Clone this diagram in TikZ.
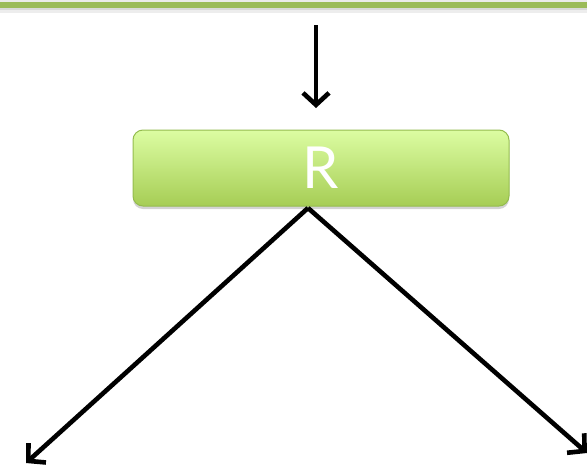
\documentclass[tikz,border=0pt]{standalone}
\usepackage{fontspec}
\setmainfont{Lato}
\usetikzlibrary{arrows.meta,shadows,fadings}
\definecolor{boxtop}{HTML}{DCFDA2}
\definecolor{boxbot}{HTML}{A6CD55}
\definecolor{boxedge}{HTML}{94BC4E}
\definecolor{barcol}{HTML}{9BBB59}
\tikzset{
  conn/.style={line width=4.6pt,-{Straight Barb[length=12pt,width=26pt,line width=4.6pt]}},
  rbox/.style={rounded corners=10pt,draw=boxedge,line width=1pt,top color=boxtop,bottom color=boxbot,
    minimum width=376pt,minimum height=76pt,text=white,font=\fontsize{58}{60}\selectfont,
    drop shadow={shadow xshift=0pt,shadow yshift=-3pt,opacity=0.35}},
}
\begin{document}
\begin{tikzpicture}[x=1pt,y=-1pt]
\useasboundingbox (0,0) rectangle (587,469);
% top bar (box cut off)
\fill[black!8] (0,0) rectangle (587,2);
\fill[black!15] (0,8) rectangle (587,10);
\fill[black!7] (0,10) rectangle (587,13);
\fill[barcol] (0,2) rectangle (587,8);
\coordinate (topin) at (316,25);
\node[rbox] (R) at (321,168) {R};
\coordinate (rtop) at (316,108);
\coordinate (split) at (308,208);
\coordinate (lend) at (26,463);
\coordinate (rend) at (587,453);
\draw[conn] (topin) -- (rtop);
\draw[conn] (split) -- (lend);
\draw[conn] (split) -- (rend);
\end{tikzpicture}
\end{document}
